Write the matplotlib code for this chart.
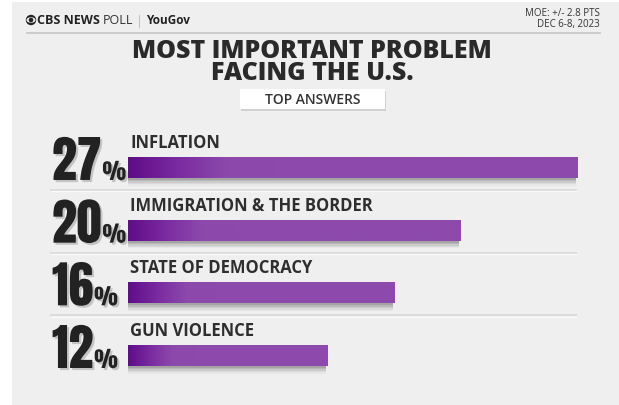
import matplotlib
matplotlib.use("Agg")
import matplotlib.pyplot as plt
import numpy as np
from matplotlib.patches import Rectangle, Circle, Ellipse
from matplotlib import patheffects as pe
from matplotlib.transforms import offset_copy
from matplotlib.colors import LinearSegmentedColormap

# ---- data ----
categories = ["INFLATION", "IMMIGRATION & THE BORDER", "STATE OF DEMOCRACY", "GUN VIOLENCE"]
values = [27, 20, 16, 12]
title_lines = ["MOST IMPORTANT PROBLEM", "FACING THE U.S."]
subtitle = "TOP ANSWERS"
moe_lines = ["MOE: +/- 2.8 PTS", "DEC 6-8, 2023"]

W, H = 619, 405
fig = plt.figure(figsize=(W / 100, H / 100), dpi=100)
fig.patch.set_facecolor("white")

ov = fig.add_axes([0, 0, 1, 1])
ov.set_xlim(0, W)
ov.set_ylim(H, 0)
ov.axis("off")

BG = "#efefef"
ov.add_patch(Rectangle((12, 2), W - 12, H - 2, facecolor=BG, edgecolor="none", zorder=0))

HEAD = ["Open Sans", "DejaVu Sans"]
DARK = "#2a2a2a"

# header logo
ov.add_patch(Circle((31, 20), 5.2, facecolor="#222222", edgecolor="none", zorder=2))
ov.add_patch(Ellipse((31, 20), 9.0, 5.6, facecolor=BG, edgecolor="none", zorder=3))
ov.add_patch(Circle((31, 20), 2.3, facecolor="#222222", edgecolor="none", zorder=4))
t1 = ov.text(37, 24.5, "CBS NEWS", fontsize=9, fontweight="bold", family=HEAD,
             color="#222222", va="baseline", ha="left")
t2 = ov.annotate("POLL", xy=(1, 0), xycoords=t1, xytext=(2.5, 0), textcoords="offset pixels",
                 fontsize=9, family=HEAD, color="#333333", va="bottom", ha="left")
t3 = ov.annotate("|", xy=(1, 0), xycoords=t2, xytext=(3, 0), textcoords="offset pixels",
                 fontsize=9, family=HEAD, color="#bbbbbb", va="bottom", ha="left")
t4 = ov.annotate("YouGov", xy=(1, 0), xycoords=t3, xytext=(3, 0), textcoords="offset pixels",
                 fontsize=8.5, fontweight="bold", family=HEAD, color="#222222", va="bottom", ha="left")

ov.text(600, 13, moe_lines[0], fontsize=7, family=HEAD, color="#333333", ha="right", va="center")
ov.text(600, 24, moe_lines[1], fontsize=7, family=HEAD, color="#333333", ha="right", va="center")
ov.plot([27, 600], [33, 33], color="#c9c9c9", lw=1.3, zorder=2)

# title
ov.text(312, 51, title_lines[0], fontsize=18, fontweight=800, family=HEAD, color=DARK,
        ha="center", va="center")
ov.text(312, 74, title_lines[1], fontsize=18, fontweight=800, family=HEAD, color=DARK,
        ha="center", va="center")

# subtitle box
box = Rectangle((240, 89), 145, 20, facecolor="white", edgecolor="none", zorder=3)
box.set_path_effects([pe.SimplePatchShadow(offset=(1, -1.5), shadow_rgbFace="k", alpha=0.12), pe.Normal()])
ov.add_patch(box)
ov.text(312.5, 99.5, subtitle, fontsize=10, fontweight="semibold", family=HEAD, color="#333333",
        ha="center", va="center", zorder=4)

# ---- bars ----
x0_px, x1_px, xmax_px = 128, 577, 600
ax = fig.add_axes([x0_px / W, 1 - 390 / H, (xmax_px - x0_px) / W, 260 / H])
ax.patch.set_alpha(0)
ax.axis("off")
scale = (xmax_px - x0_px) / (x1_px - x0_px)
row_px = 62.67
ylim = (3 + (390 - 355.5) / row_px, -(167.5 - 130) / row_px)
bh = 21 / row_px

ypos = np.arange(len(categories))
bars = ax.barh(ypos, values, height=bh, color="#8c49ab", zorder=3)

shadows = [pe.SimplePatchShadow(offset=(-1, -o), shadow_rgbFace="k", alpha=a)
           for o, a in [(1.5, 0.10), (2.5, 0.09), (3.5, 0.07), (4.5, 0.05), (5.5, 0.03)]]
cmap = LinearSegmentedColormap.from_list("pur", ["#5f0d88", "#7a2ba0", "#8c49ab", "#8d4aac"])
for b in bars:
    b.set_path_effects(shadows + [pe.Normal()])
    bx, by, bw, bhh = b.get_x(), b.get_y(), b.get_width(), b.get_height()
    xs = np.linspace(0, 1, 300)
    t = np.clip(xs / 0.33, 0, 1)
    grad = t[np.newaxis, :]
    im = ax.imshow(grad, cmap=cmap, vmin=0, vmax=1, aspect="auto",
                   extent=(bx, bx + bw, by + bhh, by), zorder=4, interpolation="bilinear")
    im.set_clip_path(b)
ax.set_xlim(0, max(values) * scale)
ax.set_ylim(*ylim)

# separators
xl = -78 * max(values) / (x1_px - x0_px)
for i in range(len(categories) - 1):
    ysep = ypos[i] + bh / 2 + 12 / row_px
    ax.plot([xl, max(values)], [ysep, ysep], color="#dcdcdc",
            lw=1.4, zorder=1, clip_on=False, solid_capstyle="butt")
    ax.plot([xl, max(values)], [ysep + 1.3 / row_px] * 2,
            color="#fafafa", lw=0.9, zorder=1, clip_on=False, solid_capstyle="butt")

NUMF = ["Anton", "DejaVu Sans"]
num_shadow = [pe.SimplePatchShadow(offset=(1.5, -1.5), shadow_rgbFace="k", alpha=0.18), pe.Normal()]
for i, (cat, v) in enumerate(zip(categories, values)):
    bottom = ypos[i] + bh / 2
    top = ypos[i] - bh / 2
    tr_num = offset_copy(ax.transData, fig=fig, x=-76, y=-2, units="dots")
    nt = ax.text(0, bottom, f"{v}", transform=tr_num, fontsize=36, family=NUMF,
                 color="#222222", ha="left", va="baseline", clip_on=False, zorder=5)
    nt.set_path_effects(num_shadow)
    tr_pct = offset_copy(ax.transData, fig=fig, x=0, y=-2, units="dots")
    pt = ax.annotate("%", xy=(1, bottom), xycoords=(nt, tr_pct), xytext=(1, 0),
                     textcoords="offset pixels", fontsize=16, family=NUMF,
                     color="#222222", ha="left", va="baseline", annotation_clip=False, zorder=5)
    pt.set_path_effects(num_shadow)
    tr_lab = offset_copy(ax.transData, fig=fig, x=2, y=9, units="dots")
    ax.text(0, top, cat, transform=tr_lab, fontsize=12, fontweight="bold", family=HEAD,
            color="#2e2e2e", ha="left", va="baseline", clip_on=False, zorder=5)

fig.savefig("out.png", dpi=100, facecolor=fig.get_facecolor())
